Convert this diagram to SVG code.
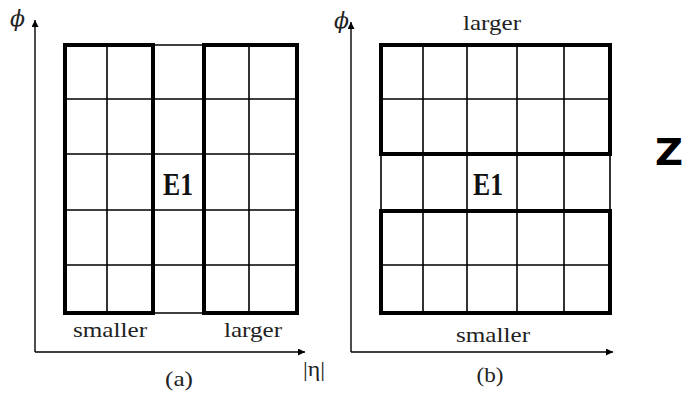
<svg xmlns="http://www.w3.org/2000/svg" width="685" height="395" viewBox="0 0 685 395">
<style>
.thin{stroke:#000;stroke-width:1.6;fill:none}
.thick{stroke:#000;stroke-width:4;fill:none}
.ax{stroke:#000;stroke-width:1.4;fill:none}
.t{font-family:"Liberation Serif","Times New Roman",serif;font-size:21px;fill:#222}
.b{font-family:"Liberation Serif","Times New Roman",serif;font-size:31px;font-weight:bold;fill:#111}
.phi{font-family:"DejaVu Serif",serif;font-style:italic;font-size:22px;fill:#222}
</style>
<defs>
<marker id="ar" viewBox="0 0 10 10" refX="10" refY="5" markerWidth="10" markerHeight="7" markerUnits="userSpaceOnUse" orient="auto">
<path d="M0,0 L10,5 L0,10 z" fill="#000"/>
</marker>
</defs>
<rect width="685" height="395" fill="#fff"/>
<g id="panel-a">
<g id="axes-a">
<line class="ax" x1="35" y1="352" x2="35" y2="20" marker-end="url(#ar)"/>
<line class="ax" x1="35" y1="352" x2="305" y2="352" marker-end="url(#ar)"/>
</g>
<g id="grid-a">
<path class="thin" d="M107,45V313M153,45V313M204,45V313M249,45V313M65,99H297M65,154H297M65,210H297M65,265H297M153,45H204M153,313H204"/>
<rect class="thick" x="65" y="45" width="88" height="268"/>
<rect class="thick" x="204" y="45" width="93" height="268"/>
</g>
<text class="t" x="110" y="337" text-anchor="middle" textLength="74" lengthAdjust="spacingAndGlyphs">smaller</text>
<text class="t" x="253" y="337" text-anchor="middle" textLength="58" lengthAdjust="spacingAndGlyphs">larger</text>
<text class="b" x="178" y="195" text-anchor="middle" textLength="30" lengthAdjust="spacingAndGlyphs">E1</text>
<text class="t" x="179" y="386" text-anchor="middle" textLength="28" lengthAdjust="spacingAndGlyphs">(a)</text>
<text class="phi" x="10" y="26">ϕ</text>
<text class="t" x="314" y="376" text-anchor="middle" font-size="22" textLength="22" lengthAdjust="spacingAndGlyphs">|η|</text>
</g>
<g id="panel-b">
<g id="axes-b">
<line class="ax" x1="351" y1="352" x2="351" y2="22" marker-end="url(#ar)"/>
<line class="ax" x1="351" y1="352" x2="613" y2="352" marker-end="url(#ar)"/>
</g>
<g id="grid-b">
<path class="thin" d="M423,45V313M467,45V313M517,45V313M564,45V313M381,99H610M381,265H610M381,154V211M610,154V211"/>
<rect class="thick" x="381" y="45" width="229" height="109"/>
<rect class="thick" x="381" y="211" width="229" height="102"/>
</g>
<text class="t" x="492" y="30" text-anchor="middle" textLength="58" lengthAdjust="spacingAndGlyphs">larger</text>
<text class="t" x="493" y="342" text-anchor="middle" textLength="74" lengthAdjust="spacingAndGlyphs">smaller</text>
<text class="b" x="488" y="195" text-anchor="middle" textLength="30" lengthAdjust="spacingAndGlyphs">E1</text>
<text class="t" x="490" y="382" text-anchor="middle" textLength="27" lengthAdjust="spacingAndGlyphs">(b)</text>
<text class="phi" x="334" y="28">ϕ</text>
</g>
<text x="669" y="165" text-anchor="middle" font-family="'DejaVu Sans', sans-serif" font-weight="bold" font-size="37" textLength="28" lengthAdjust="spacingAndGlyphs">Z</text>
</svg>
